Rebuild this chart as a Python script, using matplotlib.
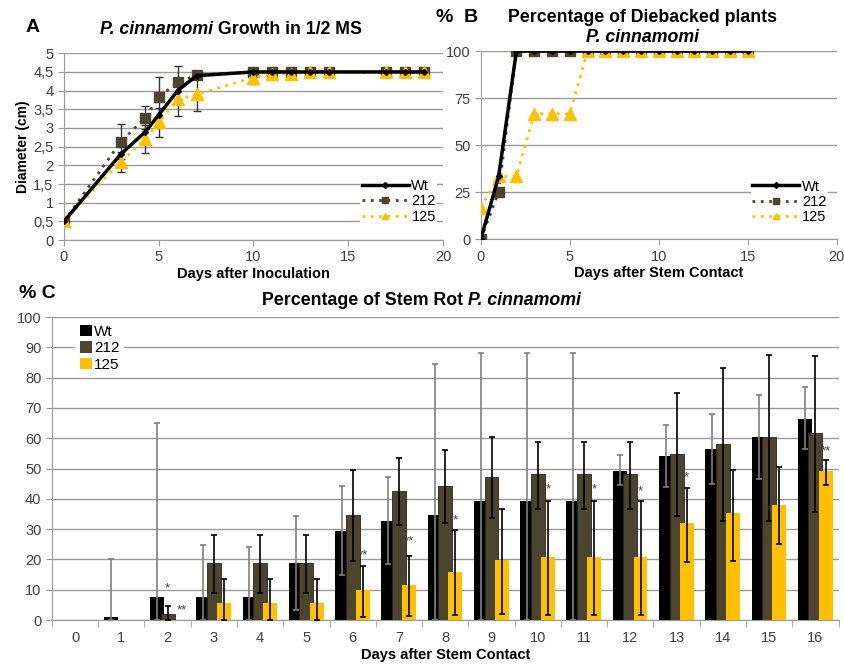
import matplotlib.pyplot as plt
import numpy as np
from matplotlib.ticker import FuncFormatter

plt.rcParams['font.family'] = ['Liberation Sans', 'DejaVu Sans']

DARK = '#4b4530'
GOLD = '#ffc000'
GRID = '#9a9a9a'
TXT = '#404040'

# A: growth in 1/2 MS
a_days = [0, 3, 4.3, 5, 6, 7, 10, 11, 12, 13, 14, 17, 18, 19]
a_wt = [0.5, 2.3, 2.9, 3.35, 4.0, 4.4, 4.5, 4.5, 4.5, 4.5, 4.5, 4.5, 4.5, 4.5]
a_212 = [0.5, 2.63, 3.28, 3.83, 4.22, 4.42, 4.5, 4.5, 4.5, 4.5, 4.5, 4.5, 4.5, 4.5]
a_212_err = [0, 0.47, 0.32, 0.53, 0.45, 0, 0, 0, 0, 0, 0, 0, 0, 0]
a_125 = [0.5, 2.1, 2.7, 3.15, 3.77, 3.9, 4.35, 4.45, 4.45, 4.5, 4.5, 4.5, 4.5, 4.5]
a_125_err = [0, 0.27, 0.38, 0.38, 0.45, 0.45, 0.18, 0, 0, 0, 0, 0, 0, 0]

# B: diebacked plants (%)
b_days = list(range(16))
b_wt = [0, 33.3] + [100] * 14
b_212 = [0, 25] + [100] * 14
b_125 = [16.7, 33.3, 33.3, 66.7, 66.7, 66.7] + [100] * 10

# C: stem rot (%)
c_days = list(range(17))
c_wt = [0, 1, 7.7, 7.7, 7.7, 18.7, 29.4, 32.6, 34.7, 39.3, 39.3, 39.3, 49.3, 54.3, 56.5, 60.4, 66.5]
c_wt_lo = [0, 0, 0, 0, 0, 3.3, 15, 18.4, 0, 0, 0, 0, 44.6, 44, 44.8, 46.4, 56.4]
c_wt_hi = [0, 20, 65, 24.8, 24, 34.5, 44.3, 47.2, 84.6, 88, 88, 88, 54.6, 64.5, 68, 74.4, 76.9]
c_212 = [0, 0, 2, 18.7, 18.7, 18.7, 34.8, 42.6, 44.3, 47.2, 48.3, 48.3, 48.3, 54.8, 58.2, 60.4, 61.6]
c_212_lo = [0, 0, 0, 9, 9, 9, 19.5, 31.5, 32, 33.6, 36.8, 36.8, 36.8, 34.3, 32.8, 32.8, 35.5]
c_212_hi = [0, 0, 4.7, 28, 28, 28, 49.6, 53.5, 56, 60.3, 58.9, 58.9, 58.9, 74.8, 83.2, 87.5, 87]
c_125 = [0, 0, 0, 5.5, 5.5, 5.5, 10, 11.6, 15.8, 19.8, 20.7, 20.7, 20.7, 31.9, 35.2, 38, 49.3]
c_125_lo = [0, 0, 0, 0, 0, 0, 1, 1.4, 1.6, 2, 1.6, 1.6, 1.6, 19.2, 19.5, 25, 44.6]
c_125_hi = [0, 0, 0, 13.5, 13.5, 13.5, 17.8, 21.3, 29.6, 36.5, 39.3, 39.3, 39.3, 43.6, 49.5, 50.6, 52.8]
# significance marks: (x position, label, y)
c_stars = [(2.0, '*', 8.3), (2.3, '**', 1.2), (6.22, '**', 19.5), (7.22, '**', 24), (8.22, '*', 31),
           (10.22, '*', 41), (11.22, '*', 41), (12.22, '*', 40.5), (13.22, '*', 45), (16.22, '**', 53.5)]


def style_axes(ax):
    for s in ['top', 'right']:
        ax.spines[s].set_visible(False)
    for s in ['left', 'bottom']:
        ax.spines[s].set_color(GRID)
    ax.tick_params(colors=GRID, labelcolor=TXT, labelsize=10.5, length=4)
    ax.yaxis.grid(True, color=GRID, lw=1)
    ax.set_axisbelow(True)


def small_legend(ax, handles, labels, anchor):
    leg = ax.legend(handles, labels, loc='lower right', bbox_to_anchor=anchor, frameon=True,
                    fontsize=10.5, handlelength=3.2, handletextpad=0.2, labelspacing=0.1,
                    borderpad=0.1, borderaxespad=0, framealpha=1)
    leg.get_frame().set_linewidth(0)
    for h, ms in zip(leg.legend_handles, [3, 5, 5]):
        h.set_markersize(ms)
    return leg


def bar_err(ax, xs, vals, lo, hi, color):
    xs = np.asarray(xs, float)
    vals, lo, hi = np.asarray(vals), np.asarray(lo), np.asarray(hi)
    m = hi > lo
    ax.errorbar(xs[m], vals[m], yerr=[vals[m] - lo[m], hi[m] - vals[m]], fmt='none', ecolor=color,
                elinewidth=1.2, capsize=2.5, capthick=1.2, zorder=5)


fig = plt.figure(figsize=(8.45, 6.66), dpi=100)

# ---- panel A
axA = fig.add_axes([0.0757, 0.6396, 0.4485, 0.2804])
style_axes(axA)
for vals, errs in [(a_212, a_212_err), (a_125, a_125_err)]:
    m = np.asarray(errs) > 0
    axA.errorbar(np.asarray(a_days)[m], np.asarray(vals)[m], yerr=np.asarray(errs)[m], fmt='none',
                 ecolor='#333333', elinewidth=1, capsize=3, zorder=2)
l212, = axA.plot(a_days, a_212, color=DARK, lw=2, ls=(0, (1, 2)), marker='s', ms=7, label='212', zorder=3)
l125, = axA.plot(a_days, a_125, color=GOLD, lw=2, ls=(0, (1, 2)), marker='^', ms=8, label='125', zorder=3)
lwt, = axA.plot(a_days, a_wt, color='black', lw=2.5, marker='D', ms=3, label='Wt', zorder=4)
axA.set_xlim(0, 20)
axA.set_ylim(0, 5)
axA.set_xticks([0, 5, 10, 15, 20])
axA.set_yticks(np.arange(0, 5.01, 0.5))
axA.yaxis.set_major_formatter(FuncFormatter(lambda v, p: ('%g' % v).replace('.', ',')))
axA.set_xlabel('Days after Inoculation', fontweight='bold', fontsize=10.5, labelpad=2)
axA.set_ylabel('Diameter (cm)', fontweight='bold', fontsize=10, labelpad=2)
small_legend(axA, [lwt, l212, l125], ['Wt', '212', '125'], (0.985, 0.08))

fig.text(0.030, 0.958, 'A', fontsize=14, fontweight='bold', va='center')
tA = fig.text(0.118, 0.956, 'P. cinnamomi', fontsize=12.8, fontweight='bold', fontstyle='italic', va='center')
axA.annotate(' Growth in 1/2 MS', xy=(1, 0.5), xycoords=tA, va='center', fontsize=12.8, fontweight='bold')

# ---- panel B
axB = fig.add_axes([0.569, 0.641, 0.4213, 0.2823])
style_axes(axB)
bwt, = axB.plot(b_days, b_wt, color='black', lw=2.5, marker='D', ms=3, label='Wt', zorder=4)
b212, = axB.plot(b_days, b_212, color=DARK, lw=2, ls=(0, (1, 2)), marker='s', ms=7, label='212', zorder=3)
b125, = axB.plot(b_days, b_125, color=GOLD, lw=2, ls=(0, (1, 2)), marker='^', ms=8, label='125', zorder=3)
axB.set_xlim(0, 20)
axB.set_ylim(0, 100)
axB.set_xticks([0, 5, 10, 15, 20])
axB.set_yticks([0, 25, 50, 75, 100])
axB.set_xlabel('Days after Stem Contact', fontweight='bold', fontsize=10.5, labelpad=2)
small_legend(axB, [bwt, b212, b125], ['Wt', '212', '125'], (0.975, 0.07))

fig.text(0.516, 0.973, '%  B', fontsize=14, fontweight='bold', va='center')
fig.text(0.76, 0.973, 'Percentage of Diebacked plants', fontsize=12.8, fontweight='bold', ha='center', va='center')
fig.text(0.76, 0.944, 'P. cinnamomi', fontsize=12.8, fontweight='bold', fontstyle='italic', ha='center', va='center')

# ---- panel C
axC = fig.add_axes([0.0614, 0.069, 0.931, 0.455])
style_axes(axC)
x = np.array(c_days)
w = 0.3
axC.bar(x - 0.23, c_wt, w, color='black', label='Wt', zorder=2)
bar_err(axC, x - 0.23, c_wt, c_wt_lo, c_wt_hi, '#808080')
axC.bar(x, c_212, w, color=DARK, edgecolor=['#2a2718' if v > 0 else 'none' for v in c_212], lw=0.6,
        label='212', zorder=3)
bar_err(axC, x, c_212, c_212_lo, c_212_hi, 'black')
axC.bar(x + 0.22, c_125, w, color=GOLD, label='125', zorder=4)
bar_err(axC, x + 0.22, c_125, c_125_lo, c_125_hi, 'black')
for xs, s, yv in c_stars:
    axC.text(xs, yv, s, fontsize=9.5, color='#404040', ha='center', va='bottom')
axC.set_xlim(-0.5, 16.5)
axC.set_ylim(0, 100)
axC.set_yticks(np.arange(0, 101, 10))
axC.set_xticks(c_days)
axC.set_xticks(np.arange(-0.5, 16.6, 1), minor=True)
axC.tick_params(axis='x', which='major', length=0, pad=8)
axC.tick_params(axis='x', which='minor', length=5, color=GRID)
axC.set_xlabel('Days after Stem Contact', fontweight='bold', fontsize=10.5, labelpad=2)
legC = axC.legend(loc='upper left', bbox_to_anchor=(0.03, 0.99), frameon=True, fontsize=11,
                  handlelength=0.8, handleheight=0.8, handletextpad=0.1, labelspacing=0.15,
                  borderpad=0.3, borderaxespad=0, framealpha=1)
legC.get_frame().set_linewidth(0)

fig.text(0.022, 0.560, '% C', fontsize=14, fontweight='bold', va='center')
tC = fig.text(0.31, 0.549, 'Percentage of Stem Rot', fontsize=12.8, fontweight='bold', va='center')
axC.annotate(' P. cinnamomi', xy=(1, 0.5), xycoords=tC, va='center', fontsize=12.8,
             fontweight='bold', fontstyle='italic')

fig.savefig('out.png', dpi=100)
